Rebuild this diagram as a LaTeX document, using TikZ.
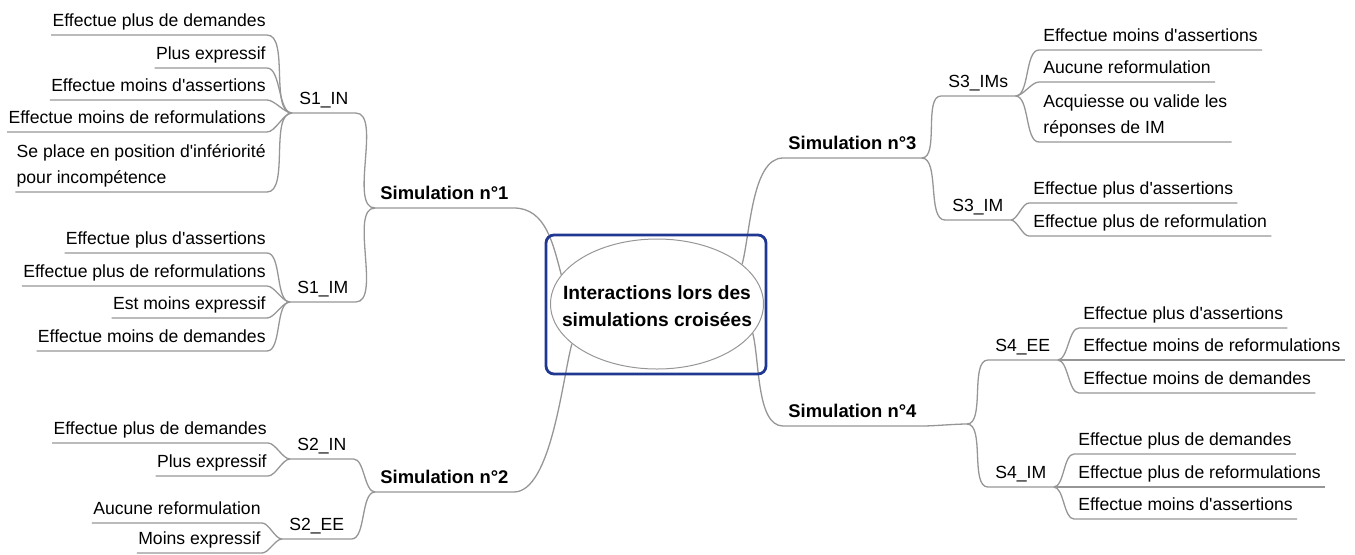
\documentclass[tikz,border=0pt]{standalone}
\usepackage{fontspec}
\setmainfont{Liberation Sans}[Ligatures=TeXOff]
\usetikzlibrary{shapes.geometric, positioning}
\definecolor{linegray}{RGB}{150,150,150}
\definecolor{frameblue}{RGB}{32,56,145}
\tikzstyle{link}  = [draw=linegray, line width=0.65pt]
\tikzstyle{leaf}  = [inner ysep=0pt, text depth=4pt, font=\fontsize{8.8}{13}\selectfont]

\begin{document}
\begin{tikzpicture}[
        x=0.5pt, y=0.5pt,
        lcurve/.style={out=180, in=0, looseness=0.7},
        rcurve/.style={out=0, in=180, looseness=0.7},
        leafL/.style={leaf, inner xsep=0.5pt, anchor=south east},
        leafR/.style={leaf, inner xsep=2pt, anchor=south west},
        sub/.style={leaf, inner xsep=3.5pt, anchor=south west},
        sim/.style={inner xsep=2.5pt, inner ysep=0pt, text depth=4pt, anchor=south west,
            font=\fontsize{9.2}{13}\selectfont\bfseries}
    ]
        \useasboundingbox (0,0) rectangle (1355,-554);

        % centre
        \node[draw=linegray, line width=0.5pt, ellipse, inner sep=0pt,
            minimum width=106.5pt, minimum height=65pt] (hub) at (657,-304) {};
        \node[align=center, font=\fontsize{9.6}{13.5}\selectfont\bfseries] (title) at (657,-306)
            {Interactions lors des\\simulations croisées};

        % simulation 1
        \node[sim] (sim1) at (375,-208) {Simulation n°1};
        \node[sub] (s1in) at (292,-113) {S1\_IN};
        \node[sub] (s1im) at (290,-302) {S1\_IM};
        \node[leafL] (a1) at (267,-35) {Effectue plus de demandes};
        \node[leafL] (a2) at (267,-68) {Plus expressif};
        \node[leafL] (a3) at (267,-100) {Effectue moins d'assertions};
        \node[leafL] (a4) at (267,-132) {Effectue moins de reformulations};
        \node[leafL, align=left] (a5) at (267,-192) {Se place en position d'infériorité\\pour incompétence};
        \node[leafL] (b1) at (267,-253) {Effectue plus d'assertions};
        \node[leafL] (b2) at (267,-286) {Effectue plus de reformulations};
        \node[leafL] (b3) at (267,-318) {Est moins expressif};
        \node[leafL] (b4) at (267,-351) {Effectue moins de demandes};

        % simulation 2
        \node[sim] (sim2) at (375,-492) {Simulation n°2};
        \node[sub] (s2in) at (290,-459) {S2\_IN};
        \node[sub] (s2ee) at (282,-539) {S2\_EE};
        \node[leafL] (c1) at (268,-443) {Effectue plus de demandes};
        \node[leafL] (c2) at (268,-476) {Plus expressif};
        \node[leafL] (d1) at (262,-523) {Aucune reformulation};
        \node[leafL] (d2) at (262,-553) {Moins expressif};

        % simulation 3
        \node[sim] (sim3) at (783,-158) {Simulation n°3};
        \node[sub] (s3ims) at (941,-96) {S3\_IMs};
        \node[sub] (s3im) at (945,-220) {S3\_IM};
        \node[leafR] (e1) at (1039,-50) {Effectue moins d'assertions};
        \node[leafR] (e2) at (1039,-82) {Aucune reformulation};
        \node[leafR, align=left] (e3) at (1039,-142) {Acquiesse ou valide les\\réponses de IM};
        \node[leafR] (f1) at (1029,-203) {Effectue plus d'assertions};
        \node[leafR] (f2) at (1029,-236) {Effectue plus de reformulation};

        % simulation 4
        \node[sim] (sim4) at (783,-426) {Simulation n°4};
        \coordinate (j4) at (967,-424);
        \node[sub] (s4ee) at (988,-360) {S4\_EE};
        \node[sub] (s4im) at (988,-487) {S4\_IM};
        \node[leafR] (g1) at (1079,-328) {Effectue plus d'assertions};
        \node[leafR] (g2) at (1079,-360) {Effectue moins de reformulations};
        \node[leafR] (g3) at (1079,-393) {Effectue moins de demandes};
        \node[leafR] (h1) at (1074,-454) {Effectue plus de demandes};
        \node[leafR] (h2) at (1074,-487) {Effectue plus de reformulations};
        \node[leafR] (h3) at (1074,-519) {Effectue moins d'assertions};

        % branches
        \draw[link] (hub.163) to[out=105, in=0] (sim1.south east) -- (sim1.south west);
        \draw[link] (hub.205) to[out=-105, in=0, looseness=0.6] (sim2.south east) -- (sim2.south west);
        \draw[link] (hub.25) to[out=75, in=180, looseness=0.7] (sim3.south west) -- (sim3.south east);
        \draw[link] (hub.343) to[out=-75, in=180, looseness=0.7] (sim4.south west) -- (sim4.south east) to[rcurve] (j4);

        \foreach \s in {s1in,s1im}
            \draw[link] (sim1.south west) to[lcurve] (\s.south east) -- (\s.south west);
        \foreach \s in {s2in,s2ee}
            \draw[link] (sim2.south west) to[lcurve] (\s.south east) -- (\s.south west);
        \foreach \s in {s3ims,s3im}
            \draw[link] (sim3.south east) to[rcurve] (\s.south west) -- (\s.south east);
        \foreach \s in {s4ee,s4im}
            \draw[link] (j4) to[rcurve] (\s.south west) -- (\s.south east);

        \foreach \l in {a1,a2,a3,a4,a5}
            \draw[link] (s1in.south west) to[lcurve] (\l.south east) -- (\l.south west);
        \foreach \l in {b1,b2,b3,b4}
            \draw[link] (s1im.south west) to[lcurve] (\l.south east) -- (\l.south west);
        \foreach \l in {c1,c2}
            \draw[link] (s2in.south west) to[lcurve] (\l.south east) -- (\l.south west);
        \foreach \l in {d1,d2}
            \draw[link] (s2ee.south west) to[lcurve] (\l.south east) -- (\l.south west);
        \foreach \l in {e1,e2,e3}
            \draw[link] (s3ims.south east) to[rcurve] (\l.south west) -- (\l.south east);
        \foreach \l in {f1,f2}
            \draw[link] (s3im.south east) to[rcurve] (\l.south west) -- (\l.south east);
        \foreach \l in {g1,g2,g3}
            \draw[link] (s4ee.south east) to[rcurve] (\l.south west) -- (\l.south east);
        \foreach \l in {h1,h2,h3}
            \draw[link] (s4im.south east) to[rcurve] (\l.south west) -- (\l.south east);

        % frame round the centre
        \node[draw=frameblue, line width=1.4pt, rounded corners=4pt, inner sep=0pt,
            minimum width=110pt, minimum height=69.5pt] (frame) at (656,-304.5) {};

    \end{tikzpicture}
\end{document}
